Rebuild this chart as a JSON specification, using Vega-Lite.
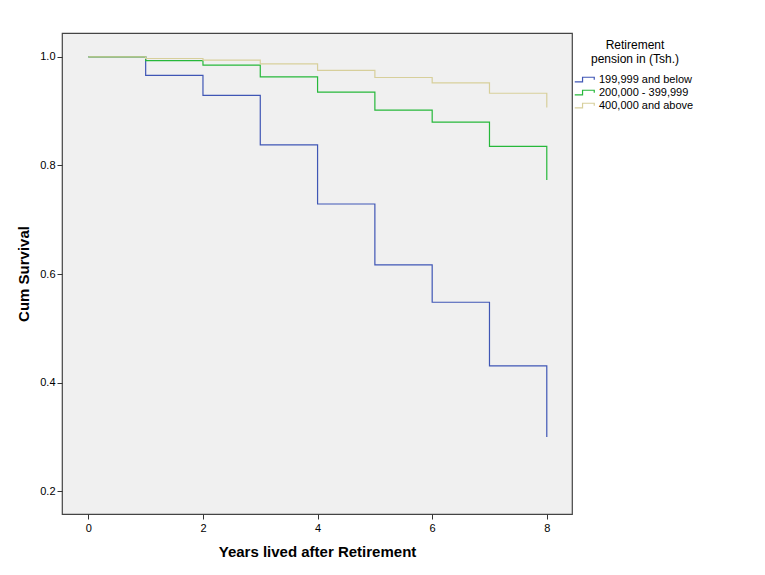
{
  "$schema": "https://vega.github.io/schema/vega-lite/v6.json",
  "width": 510,
  "height": 481,
  "autosize": {"type": "none"},
  "padding": {"left": 62, "top": 33, "right": 193, "bottom": 61},
  "background": "white",
  "config": {
    "font": "Liberation Sans",
    "view": {"fill": "#f0f0f0", "stroke": "#444444", "strokeWidth": 1.2},
    "axis": {
      "domain": false, "grid": false, "tickColor": "#333333", "tickSize": 5,
      "labelFont": "Liberation Sans", "labelFontSize": 11, "labelColor": "#000000",
      "titleFont": "Liberation Sans", "titleFontSize": 15, "titleFontWeight": "bold", "titleColor": "#000000"
    }
  },
  "data": {
    "values": [
      {"group": "199,999 and below", "t": 0, "s": 1.0},
      {"group": "199,999 and below", "t": 1, "s": 0.966},
      {"group": "199,999 and below", "t": 2, "s": 0.929},
      {"group": "199,999 and below", "t": 3, "s": 0.838},
      {"group": "199,999 and below", "t": 4, "s": 0.729},
      {"group": "199,999 and below", "t": 5, "s": 0.617},
      {"group": "199,999 and below", "t": 6, "s": 0.548},
      {"group": "199,999 and below", "t": 7, "s": 0.431},
      {"group": "199,999 and below", "t": 8, "s": 0.300},
      {"group": "200,000 - 399,999", "t": 0, "s": 1.0},
      {"group": "200,000 - 399,999", "t": 1, "s": 0.993},
      {"group": "200,000 - 399,999", "t": 2, "s": 0.985},
      {"group": "200,000 - 399,999", "t": 3, "s": 0.963},
      {"group": "200,000 - 399,999", "t": 4, "s": 0.935},
      {"group": "200,000 - 399,999", "t": 5, "s": 0.902},
      {"group": "200,000 - 399,999", "t": 6, "s": 0.880},
      {"group": "200,000 - 399,999", "t": 7, "s": 0.835},
      {"group": "200,000 - 399,999", "t": 8, "s": 0.773},
      {"group": "400,000 and above", "t": 0, "s": 1.0},
      {"group": "400,000 and above", "t": 1, "s": 0.997},
      {"group": "400,000 and above", "t": 2, "s": 0.994},
      {"group": "400,000 and above", "t": 3, "s": 0.987},
      {"group": "400,000 and above", "t": 4, "s": 0.975},
      {"group": "400,000 and above", "t": 5, "s": 0.962},
      {"group": "400,000 and above", "t": 6, "s": 0.952},
      {"group": "400,000 and above", "t": 7, "s": 0.933},
      {"group": "400,000 and above", "t": 8, "s": 0.907}
    ]
  },
  "mark": {"type": "line", "interpolate": "step-after", "strokeWidth": 1.2, "clip": true},
  "encoding": {
    "x": {
      "field": "t", "type": "quantitative",
      "scale": {"domain": [-0.46, 8.44], "nice": false, "zero": false},
      "axis": {"values": [0, 2, 4, 6, 8], "title": "Years lived after Retirement", "titlePadding": 11, "labelPadding": 3}
    },
    "y": {
      "field": "s", "type": "quantitative",
      "scale": {"domain": [0.158, 1.044], "nice": false, "zero": false},
      "axis": {"values": [0.2, 0.4, 0.6, 0.8, 1.0], "format": ".1f", "title": "Cum Survival", "titlePadding": 8, "labelPadding": 2}
    },
    "color": {
      "field": "group", "type": "nominal",
      "scale": {"domain": ["199,999 and below", "200,000 - 399,999", "400,000 and above"], "range": ["#3f56b5", "#26b83a", "#d7cf9b"]},
      "legend": {
        "title": ["Retirement", "pension in (Tsh.)"],
        "orient": "none", "legendX": 515, "legendY": 7,
        "titleFont": "Liberation Sans", "titleFontSize": 12, "titleFontWeight": "normal", "titleColor": "#000000",
        "titleAnchor": "middle", "titleAlign": "center", "titleLineHeight": 14, "titlePadding": 6,
        "labelFont": "Liberation Sans", "labelFontSize": 11, "labelColor": "#000000", "labelOffset": 7,
        "symbolType": "M-1.5,0.35H-0.3V-0.35H1.5V0.05",
        "symbolSize": 169, "symbolStrokeWidth": 1.2, "symbolFillColor": "transparent",
        "rowPadding": 0
      }
    }
  }
}
